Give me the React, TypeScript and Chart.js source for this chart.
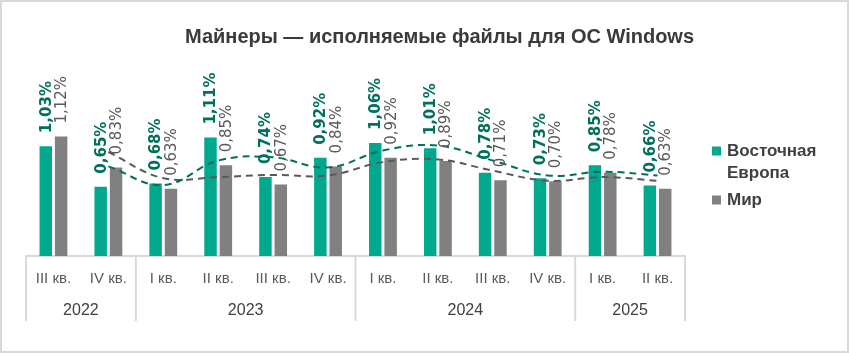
import React, { useEffect, useRef } from "react";
import { Chart, registerables } from "chart.js";

Chart.register(...registerables);

const TITLE = "Майнеры — исполняемые файлы для ОС Windows";
const quarters = ["III кв.", "IV кв.", "I кв.", "II кв.", "III кв.", "IV кв.", "I кв.", "II кв.", "III кв.", "IV кв.", "I кв.", "II кв."];
const years = ["2022", "2023", "2024", "2025"];
const quartersPerYear = [2, 4, 4, 2];
const seriesNames = ["Восточная Европа", "Мир"];
const eastEurope = [1.03, 0.65, 0.68, 1.11, 0.74, 0.92, 1.06, 1.01, 0.78, 0.73, 0.85, 0.66];
const world = [1.12, 0.83, 0.63, 0.85, 0.67, 0.84, 0.92, 0.89, 0.71, 0.7, 0.78, 0.63];
const eastEuropeTrend = [null, 0.84, 0.665, 0.895, 0.925, 0.83, 0.99, 1.035, 0.895, 0.755, 0.79, 0.755];
const worldTrend = [null, 0.975, 0.73, 0.74, 0.76, 0.755, 0.88, 0.905, 0.8, 0.705, 0.74, 0.705];

const GREEN = "#00a88e";
const GREEN_DARK = "#00705c";
const GRAY = "#808080";
const GRAY_DARK = "#595959";
const AXIS = "#d9d9d9";
const FONT = "'Liberation Sans', Arial, sans-serif";
const LABEL_FONT = "'DejaVu Sans', sans-serif";

const fmt = (v: number) => v.toFixed(2).replace(".", ",") + "%";

const decorPlugin = {
  id: "decor",
  afterDatasetsDraw(chart: any) {
    const ctx = chart.ctx;
    // data labels
    [0, 1].forEach((di) => {
      const meta = chart.getDatasetMeta(di);
      const ds = chart.data.datasets[di];
      meta.data.forEach((el: any, i: number) => {
        const v = ds.data[i];
        ctx.save();
        ctx.translate(el.x + 1, el.y - 13);
        ctx.rotate(-Math.PI / 2);
        ctx.font = (di === 0 ? "bold " : "") + "15px " + LABEL_FONT;
        ctx.fillStyle = di === 0 ? GREEN_DARK : GRAY_DARK;
        ctx.textAlign = "left";
        ctx.textBaseline = "middle";
        ctx.fillText(fmt(v), 0, 0);
        ctx.restore();
      });
    });
  },
  afterDraw(chart: any) {
    const ctx = chart.ctx;
    const x = chart.scales.x;
    const area = chart.chartArea;
    const half = x.width / quarters.length / 2;
    // year groups
    ctx.save();
    ctx.strokeStyle = AXIS;
    ctx.lineWidth = 2;
    let start = 0;
    const bottom = area.bottom + 65;
    quartersPerYear.forEach((n, gi) => {
      const l = x.getPixelForValue(start) - half;
      const r = x.getPixelForValue(start + n - 1) + half;
      ctx.beginPath();
      ctx.moveTo(l, area.bottom);
      ctx.lineTo(l, bottom);
      ctx.stroke();
      if (gi === quartersPerYear.length - 1) {
        ctx.beginPath();
        ctx.moveTo(r, area.bottom);
        ctx.lineTo(r, bottom);
        ctx.stroke();
      }
      ctx.fillStyle = "#404040";
      ctx.font = "16px " + FONT;
      ctx.textAlign = "center";
      ctx.textBaseline = "middle";
      ctx.fillText(years[gi], (l + r) / 2, area.bottom + 55);
      start += n;
    });
    ctx.restore();

    // title
    ctx.save();
    ctx.fillStyle = "#3a3a3a";
    ctx.font = "bold 20px " + FONT;
    ctx.textAlign = "center";
    ctx.textBaseline = "alphabetic";
    ctx.fillText(TITLE, (area.left + chart.width) / 2 + 2, 43);
    ctx.restore();

    // legend
    ctx.save();
    const lx = area.right + 27;
    let ly = area.top + 87;
    ctx.font = "bold 17px " + FONT;
    ctx.textBaseline = "middle";
    ctx.textAlign = "left";
    [0, 1].forEach((di) => {
      const ds = chart.data.datasets[di];
      ctx.fillStyle = ds.backgroundColor;
      ctx.fillRect(lx, ly - 4.5, 9, 9);
      const words = String(ds.label).split(" ");
      const lines: string[] = [];
      let cur = "";
      words.forEach((w) => {
        const t = cur ? cur + " " + w : w;
        if (ctx.measureText(t).width > 110 && cur) {
          lines.push(cur);
          cur = w;
        } else cur = t;
      });
      lines.push(cur);
      ctx.fillStyle = "#404040";
      lines.forEach((ln, k) => {
        ctx.fillText(ln, lx + 15, ly + k * 22);
      });
      ly += lines.length * 22 + 5;
    });
    ctx.restore();
  },
};

export default function App() {
  const ref = useRef<HTMLCanvasElement>(null);
  useEffect(() => {
    document.body.style.margin = "0";
    const chart = new Chart(ref.current as HTMLCanvasElement, {
      type: "bar",
      data: {
        labels: quarters,
        datasets: [
          {
            type: "bar",
            label: seriesNames[0],
            data: eastEurope,
            backgroundColor: GREEN,
            categoryPercentage: 0.56,
            barPercentage: 0.81,
            order: 2,
          },
          {
            type: "bar",
            label: seriesNames[1],
            data: world,
            backgroundColor: GRAY,
            categoryPercentage: 0.56,
            barPercentage: 0.81,
            order: 2,
          },
          {
            type: "line",
            label: "trend1",
            data: eastEuropeTrend as any,
            borderColor: GREEN_DARK,
            borderWidth: 2,
            borderDash: [7, 5],
            pointRadius: 0,
            tension: 0.4,
            fill: false,
            order: 1,
          },
          {
            type: "line",
            label: "trend2",
            data: worldTrend as any,
            borderColor: GRAY_DARK,
            borderWidth: 2,
            borderDash: [7, 5],
            pointRadius: 0,
            tension: 0.4,
            fill: false,
            order: 1,
          },
        ],
      },
      options: {
        animation: false,
        responsive: true,
        maintainAspectRatio: false,
        layout: { padding: { left: 26, right: 164, top: 64, bottom: 32 } },
        plugins: { legend: { display: false }, tooltip: { enabled: false }, title: { display: false } },
        scales: {
          x: {
            grid: { display: false, drawTicks: false },
            border: { display: true, color: AXIS, width: 2 },
            ticks: {
              color: GRAY_DARK,
              font: { size: 15, family: FONT },
              padding: 14,
              maxRotation: 0,
              autoSkip: false,
            },
            afterFit: (s: any) => {
              s.height = 65;
            },
          },
          y: { display: false, min: 0, max: 1.8 },
        },
      },
      plugins: [decorPlugin],
    });
    return () => chart.destroy();
  }, []);
  return (
    <div style={{ position: "relative", width: 849, height: 353, background: "#fff" }}>
      <canvas ref={ref} style={{ position: "absolute", left: 0, top: 0 }} />
      <div
        style={{
          position: "absolute",
          left: 0,
          top: 0,
          width: 849,
          height: 353,
          boxSizing: "border-box",
          border: "2px solid #d9d9d9",
          pointerEvents: "none",
        }}
      />
    </div>
  );
}
